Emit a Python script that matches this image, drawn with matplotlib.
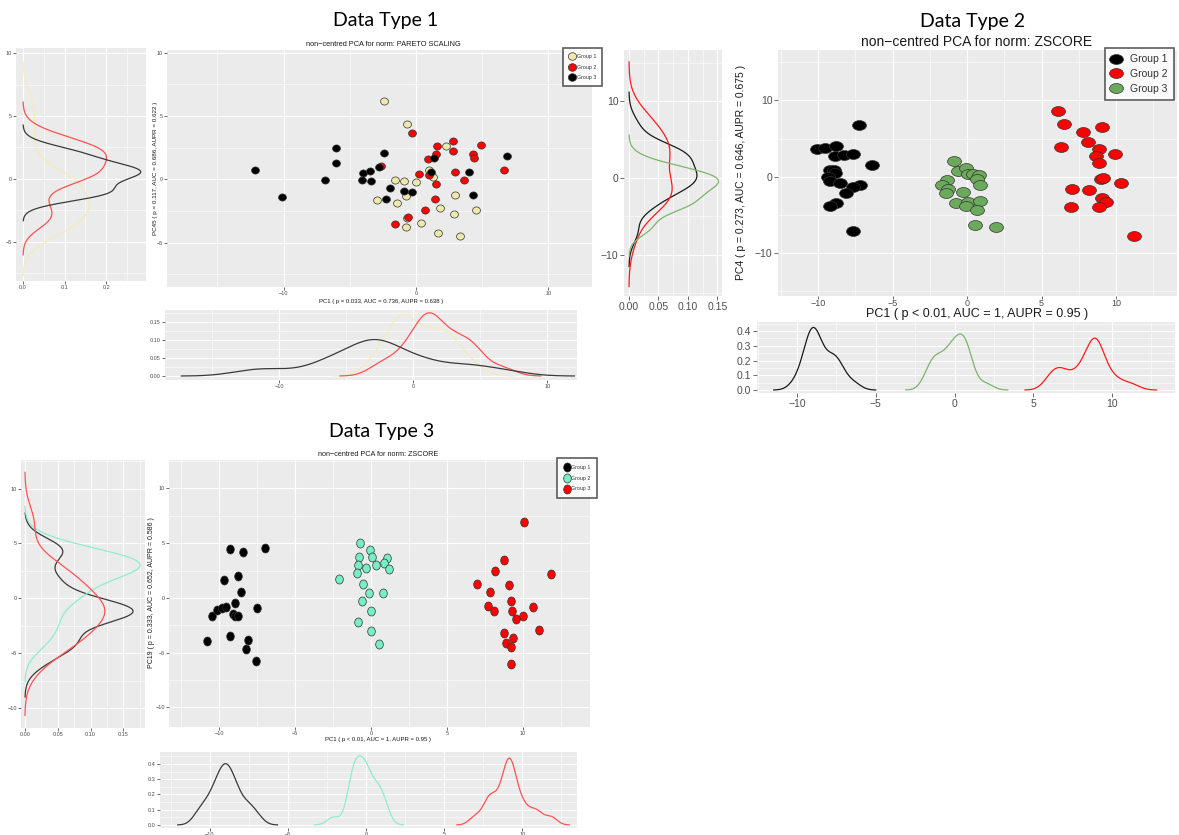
import numpy as np
import matplotlib
matplotlib.use("Agg")
import matplotlib.pyplot as plt
from matplotlib.path import Path
from matplotlib.transforms import Affine2D
from matplotlib.ticker import MultipleLocator, FormatStrFormatter
from matplotlib.lines import Line2D

W, H = 1179, 835
plt.rcParams['font.family'] = ['Liberation Sans', 'DejaVu Sans']

groups = ['Group 1', 'Group 2', 'Group 3']

# Data Type 1: PC1 vs PC45 (pareto scaling)
t1_g1_x = [-2.42, -0.66, 2.27, -1.61, -0.91, 0.0, 1.31, 1.0, -2.93, -1.46, -0.76, -0.71, -0.76, 0.35, 1.81, 2.97, 2.87, 4.53, 1.69, 3.30]
t1_g1_y = [6.16, 4.34, 2.61, -0.03, -0.13, -0.24, 0.18, 0.7, -1.63, -1.87, -1.29, -3.03, -3.74, -3.45, -2.24, -1.26, -2.76, -2.45, -4.24, -4.5]
t1_g2_x = [-0.28, -2.6, 1.56, 2.82, 2.77, 4.89, 4.34, 4.39, 0.88, 1.54, 0.23, 0.96, 2.97, 3.66, 1.49, 6.66, 1.46, 0.68, -0.58, -1.59]
t1_g2_y = [3.63, 1.03, 2.63, 3.03, 2.24, 2.68, 2.03, 1.68, 1.61, 1.97, 0.39, 0.32, 0.55, -0.08, -0.37, 0.74, -1.55, -2.42, -3.0, -3.55]
t1_g3_x = [-12.18, -10.09, -6.0, -6.05, -6.86, -3.98, -4.08, -3.45, -3.37, -2.8, -2.42, -2.27, -1.92, -0.93, -0.3, 1.34, 1.11, 4.04, 4.29, 6.91]
t1_g3_y = [0.76, -1.37, 2.5, 1.26, -0.03, 0.5, -0.03, 0.68, -0.16, 0.95, 2.08, -1.53, -0.68, -0.92, -1.03, 1.71, 0.58, 0.61, -1.21, 1.82]

# Data Type 2: PC1 vs PC4 (zscore)
t2_g1_x = [-7.24, -10.09, -9.57, -8.81, -8.86, -8.30, -7.67, -6.39, -9.19, -8.97, -8.86, -9.37, -9.24, -8.52, -7.17, -7.67, -8.12, -8.79, -9.19, -7.67]
t2_g1_y = [6.78, 3.59, 3.72, 4.07, 2.71, 2.80, 2.98, 1.53, 0.88, 0.88, 0.53, 0.0, -0.57, -0.79, -1.09, -1.31, -2.10, -3.41, -3.85, -7.13]
t2_g2_x = [6.10, 6.50, 7.78, 9.04, 8.12, 6.32, 8.86, 9.93, 8.65, 8.83, 8.97, 9.15, 10.31, 7.06, 8.16, 9.04, 9.30, 6.97, 8.86, 11.21]
t2_g2_y = [8.67, 6.96, 5.86, 6.56, 4.55, 3.89, 3.59, 3.02, 2.76, 1.79, -0.22, -0.13, -0.83, -1.58, -1.75, -2.76, -3.24, -3.94, -3.98, -7.70]
t2_g3_x = [-0.85, -0.61, -0.07, 0.04, 0.40, 0.78, 0.67, 0.85, -1.35, -1.68, -1.28, -1.43, -0.27, -0.76, 0.04, -0.04, 0.85, 0.67, 0.52, 1.97]
t2_g3_y = [2.06, 0.79, 1.09, 0.35, 0.35, 0.22, -0.35, -1.01, -0.44, -1.01, -1.53, -2.10, -1.93, -3.41, -3.28, -3.85, -3.19, -4.38, -6.26, -6.61]

# Data Type 3: PC1 vs PC19 (zscore)
t3_g1_x = [-9.28, -8.44, -6.97, -9.69, -8.79, -8.57, -8.99, -10.44, -10.11, -9.80, -9.52, -9.12, -8.99, -8.77, -7.50, -9.28, -10.77, -8.11, -8.25, -7.59]
t3_g1_y = [4.43, 4.21, 4.55, 1.65, 2.02, 0.52, -0.46, -1.65, -1.07, -0.92, -0.85, -1.44, -1.68, -1.65, -0.92, -3.45, -3.94, -3.85, -4.70, -5.74]
t3_g2_x = [-0.75, -0.09, 0.04, -0.81, 1.05, -0.88, 0.35, 0.86, 1.18, -0.35, -0.96, -2.11, -0.55, -0.11, 0.75, -0.57, -0.04, -0.86, -0.02, 0.55]
t3_g2_y = [5.04, 4.34, 3.73, 3.73, 3.63, 2.99, 3.05, 3.18, 2.66, 2.72, 2.23, 1.71, 1.31, 0.43, 0.46, -0.24, -1.19, -2.20, -3.02, -4.24]
t3_g3_x = [10.07, 8.73, 8.16, 11.84, 6.97, 9.10, 7.79, 9.21, 7.72, 8.11, 10.68, 9.30, 9.98, 9.52, 11.03, 8.73, 9.36, 8.88, 9.23, 9.19]
t3_g3_y = [6.90, 3.48, 2.50, 2.14, 1.28, 1.22, 0.52, -0.24, -0.76, -1.16, -0.85, -1.22, -1.65, -1.89, -2.96, -3.18, -3.69, -4.12, -4.52, -6.08]

t1_fill = ['#EEE8AA', '#FF0000', '#000000']
t1_line = ['#F3EDB8', '#FF5050', '#3A3A3A']
t2_fill = ['#000000', '#FF0000', '#6BAA5A']
t2_line = ['#1A1A1A', '#FF1A1A', '#7DB46C']
t3_fill = ['#000000', '#76EEC6', '#FF0000']
t3_line = ['#3A3A3A', '#8EEDD0', '#FF5252']

fig = plt.figure(figsize=(W / 100, H / 100), dpi=100)


def axes_px(x0, y0, x1, y1):
    return fig.add_axes([x0 / W, 1 - y1 / H, (x1 - x0) / W, (y1 - y0) / H])


def ellipse(sx, sy):
    return Path.unit_circle().transformed(Affine2D().scale(sx, sy))


def style(ax, fs, xs, ys, xfmt=None, yfmt=None, tl=2):
    ax.set_facecolor('#EBEBEB')
    for s in ax.spines.values():
        s.set_visible(False)
    ax.xaxis.set_major_locator(MultipleLocator(xs))
    ax.xaxis.set_minor_locator(MultipleLocator(xs / 2))
    ax.yaxis.set_major_locator(MultipleLocator(ys))
    ax.yaxis.set_minor_locator(MultipleLocator(ys / 2))
    if xfmt:
        ax.xaxis.set_major_formatter(FormatStrFormatter(xfmt))
    if yfmt:
        ax.yaxis.set_major_formatter(FormatStrFormatter(yfmt))
    ax.grid(which='major', color='white', lw=0.8)
    ax.grid(which='minor', color='white', lw=0.4)
    ax.set_axisbelow(True)
    ax.tick_params(which='major', length=tl, width=0.5, color='#333333',
                   labelsize=fs, labelcolor='#4D4D4D', pad=1)
    ax.tick_params(which='minor', length=0)


def kde(v):
    # gaussian density like R's density(): bw.nrd0, cut = 3
    v = np.asarray(v, float)
    n = len(v)
    q75, q25 = np.percentile(v, [75, 25])
    bw = 0.9 * min(v.std(ddof=1), (q75 - q25) / 1.34) * n ** -0.2
    grid = np.linspace(v.min() - 3 * bw, v.max() + 3 * bw, 512)
    d = np.exp(-0.5 * ((grid[:, None] - v[None, :]) / bw) ** 2).sum(1)
    return grid, d / (n * bw * np.sqrt(2 * np.pi))


def panel(xs, ys, fills, lines, marker, msize, sc, left, bottom, fs):
    ax = axes_px(*sc['box'])
    style(ax, fs, *sc['step'], tl=sc.get('tl', 2))
    for x, y, c in zip(xs, ys, fills):
        ax.scatter(x, y, s=msize, marker=marker, facecolor=c, edgecolor='#333333', lw=0.5, zorder=3)
    ax.set_xlim(sc['xlim'])
    ax.set_ylim(sc['ylim'])

    axl = axes_px(*left['box'])
    style(axl, fs, left['step'][0], left['step'][1], xfmt=left['fmt'], tl=sc.get('tl', 2))
    for y, c in zip(ys, lines):
        g, d = kde(y)
        axl.plot(d, g, color=c, lw=0.9)
    axl.set_xlim(left['xlim'])
    axl.set_ylim(left['ylim'])

    axb = axes_px(*bottom['box'])
    style(axb, fs, bottom['step'][0], bottom['step'][1], yfmt=bottom['fmt'], tl=sc.get('tl', 2))
    for x, c in zip(xs, lines):
        g, d = kde(x)
        axb.plot(g, d, color=c, lw=0.9)
    axb.set_xlim(bottom['xlim'])
    axb.set_ylim(bottom['ylim'])
    return ax


def legend(ax, fills, marker, ms, fs, x0, y0, tpad=0.2, lsp=0.45, bpad=0.6):
    hs = [Line2D([], [], ls='', marker=marker, ms=ms, mfc=c, mec='#333333', mew=0.5) for c in fills]
    lg = ax.legend(hs, groups, loc='upper left', bbox_to_anchor=(x0 / W, 1 - y0 / H),
                   bbox_transform=fig.transFigure, fontsize=fs, frameon=True, fancybox=False,
                   borderpad=bpad, handletextpad=tpad, labelspacing=lsp, handlelength=1.0,
                   borderaxespad=0)
    lg.get_frame().set_edgecolor('#333333')
    lg.get_frame().set_linewidth(1.2)
    for t in lg.get_texts():
        t.set_color('#333333')


def ftext(x, y, s, **kw):
    fig.text(x / W, 1 - y / H, s, **kw)


# ---- Data Type 1 ----
ax1 = panel([t1_g1_x, t1_g2_x, t1_g3_x], [t1_g1_y, t1_g2_y, t1_g3_y], t1_fill, t1_line,
            ellipse(1.1, 1.0), 32,
            dict(box=(167, 50, 592, 287), step=(10, 5), xlim=(-18.8, 13.3), ylim=(-8.5, 10.2)),
            dict(box=(16, 48, 146, 281), step=(0.1, 5), fmt='%.1f', xlim=(-0.017, 0.296), ylim=(-8.1, 10.4)),
            dict(box=(165, 310, 577, 380), step=(10, 0.05), fmt='%.2f', xlim=(-18.5, 12.2), ylim=(-0.011, 0.183)),
            4)
legend(ax1, t1_fill, ellipse(1.1, 1.0), 6, 3.8, 563, 48, tpad=0.4, lsp=1.0, bpad=1.2)
ftext(386, 26, 'Data Type 1', family='Lato', fontsize=14, ha='center', va='baseline')
ftext(383, 46, 'non\u2212centred PCA for norm: PARETO SCALING', fontsize=5.3, ha='center', va='baseline', color='#1A1A1A')
ftext(381, 301, 'PC1 ( p = 0.033, AUC = 0.736, AUPR = 0.638 )', fontsize=4.3, ha='center', va='center', color='#1A1A1A')
ftext(155, 168, 'PC45 ( p = 0.117, AUC = 0.686, AUPR = 0.622 )', fontsize=4.5, rotation=90, ha='center', va='center', color='#1A1A1A')

# ---- Data Type 2 ----
ax2 = panel([t2_g1_x, t2_g2_x, t2_g3_x], [t2_g1_y, t2_g2_y, t2_g3_y], t2_fill, t2_line,
            ellipse(1.4, 1.0), 100,
            dict(box=(778, 50, 1177, 296), step=(5, 10), xlim=(-12.7, 14.1), ylim=(-15.6, 16.6), tl=3),
            dict(box=(624, 50, 722, 296), step=(0.05, 10), fmt='%.2f', xlim=(-0.0085, 0.158), ylim=(-15.4, 16.7)),
            dict(box=(757, 322, 1175, 393), step=(5, 0.1), fmt='%.1f', xlim=(-12.54, 14.0), ylim=(-0.02, 0.461)),
            7.5)
ax2.tick_params(axis='x', labelsize=6.5, length=2, pad=0.5)
legend(ax2, t2_fill, ellipse(1.4, 1.0), 10, 7.5, 1105, 48, tpad=0.8)
ftext(973, 27, 'Data Type 2', family='Lato', fontsize=14, ha='center', va='baseline')
ftext(977, 46, 'non\u2212centred PCA for norm: ZSCORE', fontsize=10, ha='center', va='baseline', color='#1A1A1A')
ftext(977, 314, 'PC1 ( p < 0.01, AUC = 1, AUPR = 0.95 )', fontsize=9, ha='center', va='center', color='#1A1A1A')
ftext(741, 172, 'PC4 ( p = 0.273, AUC = 0.646, AUPR = 0.675 )', fontsize=7.5, rotation=90, ha='center', va='center', color='#1A1A1A')

# ---- Data Type 3 ----
ax3 = panel([t3_g1_x, t3_g2_x, t3_g3_x], [t3_g1_y, t3_g2_y, t3_g3_y], t3_fill, t3_line,
            ellipse(1.0, 1.18), 42,
            dict(box=(169, 460, 590, 727), step=(5, 5), xlim=(-13.3, 14.4), ylim=(-11.8, 12.6)),
            dict(box=(21, 460, 145, 728), step=(0.05, 5), fmt='%.2f', xlim=(-0.006, 0.183), ylim=(-11.8, 12.6)),
            dict(box=(160, 752, 577, 828), step=(5, 0.1), fmt='%.1f', xlim=(-13.2, 13.5), ylim=(-0.02, 0.479)),
            4)
legend(ax3, t3_fill, ellipse(1.0, 1.18), 6.5, 3.8, 557, 458, tpad=0.4, lsp=1.1, bpad=1.3)
ftext(382, 437, 'Data Type 3', family='Lato', fontsize=14, ha='center', va='baseline')
ftext(378, 456, 'non\u2212centred PCA for norm: ZSCORE', fontsize=5.2, ha='center', va='baseline', color='#1A1A1A')
ftext(378, 740, 'PC1 ( p < 0.01, AUC = 1, AUPR = 0.95 )', fontsize=4.3, ha='center', va='center', color='#1A1A1A')
ftext(152, 593, 'PC19 ( p = 0.333, AUC = 0.652, AUPR = 0.586 )', fontsize=5, rotation=90, ha='center', va='center', color='#1A1A1A')

fig.savefig('out.png', dpi=100, facecolor='white')
